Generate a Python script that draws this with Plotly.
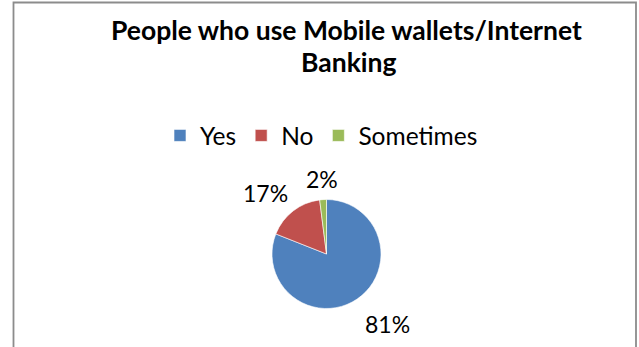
import math
import plotly.graph_objects as go

# Survey answers and their shares (percent)
answers = ["Yes", "No", "Sometimes"]
shares = [81, 17, 2]
slice_colors = ["#4F81BD", "#C0504D", "#9BBB59"]
title_lines = ["People who use Mobile wallets/Internet", "Banking"]

W, H = 639, 347
FONT = "Lato"

# Pie placement in pixels (centre and radius), converted to paper fractions
cx, cy, r = 326.5, 254.0, 54.5
dom_x = [(cx - r) / W, (cx + r) / W]
dom_y = [(H - cy - r) / H, (H - cy + r) / H]

fig = go.Figure(
    go.Pie(
        labels=answers,
        values=shares,
        marker=dict(colors=slice_colors, line=dict(color="white", width=0.6)),
        sort=False,
        direction="clockwise",
        rotation=0,
        textinfo="none",
        domain=dict(x=dom_x, y=dom_y),
        showlegend=True,
        hoverinfo="label+percent",
    )
)

# Percentage labels set just outside each slice, at the slice's mid angle
label_r = 66.0
total = sum(shares)
start = 0.0
annotations = []
for name, v in zip(answers, shares):
    mid = (start + v / 2) / total
    start += v
    theta = 2 * math.pi * mid  # clockwise from 12 o'clock
    ux, uy = math.sin(theta), math.cos(theta)
    px = cx + label_r * ux
    py = (H - cy) + label_r * uy
    xa = "left" if ux > 0.2 else ("right" if ux < -0.2 else "center")
    ya = "bottom" if uy > 0 else "top"
    annotations.append(
        dict(
            text=f"{round(100 * v / total)}%",
            x=px / W,
            y=py / H,
            xref="paper",
            yref="paper",
            xanchor=xa,
            yanchor=ya,
            xshift=3 if xa == "right" else 0,
            yshift=-6 if ya == "bottom" else 0,
            showarrow=False,
            borderpad=0,
            font=dict(family=FONT, size=23, color="#000000"),
        )
    )

# Two-line bold title, lines set 32 px apart
for i, line in enumerate(title_lines):
    annotations.append(
        dict(
            text=f"<b>{line}</b>",
            x=(346 + 2 * i) / W,
            y=1 - (30 + 32 * i) / H,
            xref="paper",
            yref="paper",
            xanchor="center",
            yanchor="middle",
            showarrow=False,
            font=dict(family=FONT, size=26.5, color="#000000"),
        )
    )

fig.update_layout(
    width=W,
    height=H,
    margin=dict(l=0, r=0, t=0, b=0),
    paper_bgcolor="white",
    plot_bgcolor="white",
    font=dict(family=FONT, color="#000000"),
    annotations=annotations,
    legend=dict(
        orientation="h",
        x=321.5 / W,
        xanchor="center",
        y=1 - 135.5 / H,
        yanchor="middle",
        font=dict(family=FONT, size=24.5, color="#000000"),
        bgcolor="rgba(0,0,0,0)",
        itemwidth=30,
    ),
    shapes=[
        dict(
            type="rect",
            xref="paper",
            yref="paper",
            x0=13.5 / W,
            x1=636 / W,
            y0=-0.05,
            y1=1 - 2.5 / H,
            line=dict(color="#8c8c8c", width=1.8),
            fillcolor="rgba(0,0,0,0)",
            layer="below",
        )
    ],
)

fig.write_html("out.html")
